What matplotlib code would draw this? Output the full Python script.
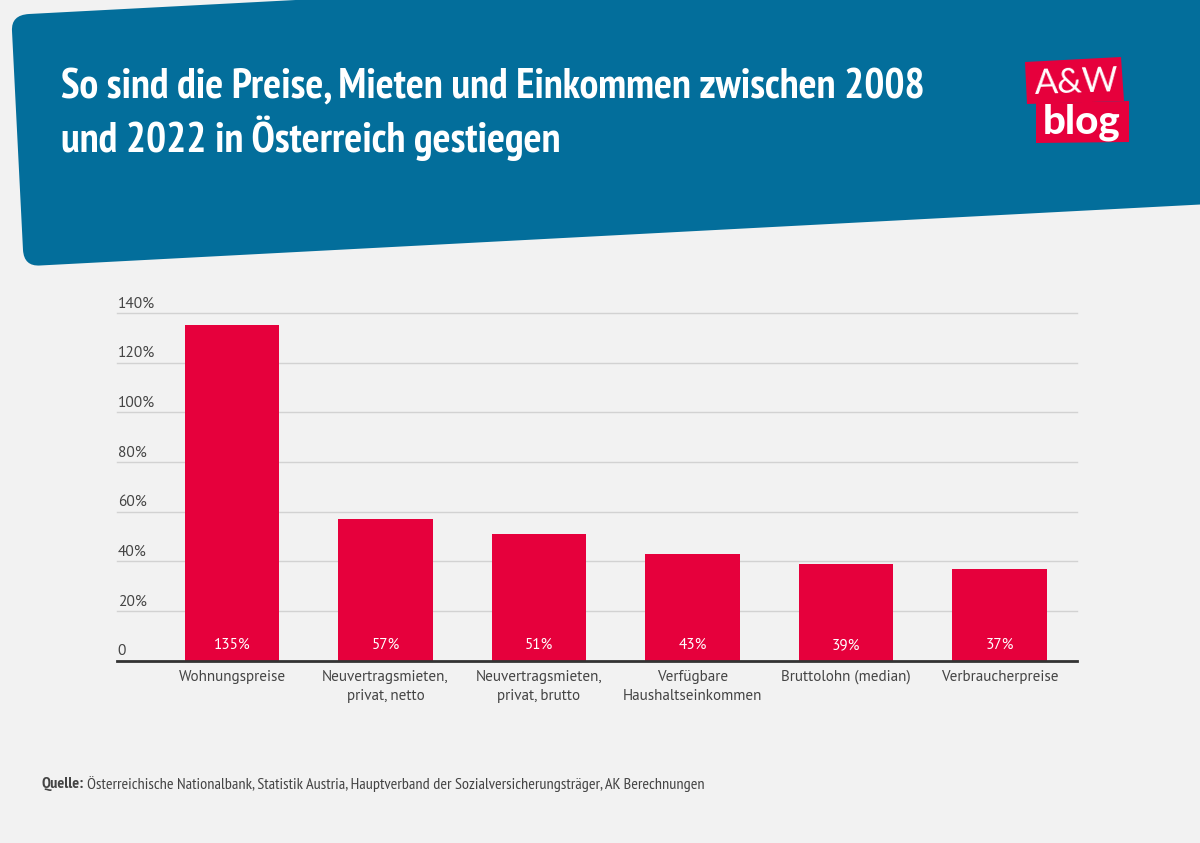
import matplotlib
matplotlib.use("Agg")
import logging
logging.getLogger("matplotlib.font_manager").setLevel(logging.ERROR)
import matplotlib.pyplot as plt
from matplotlib.patches import PathPatch, Polygon
from matplotlib.path import Path

W, H = 1200, 843
categories = ["Wohnungspreise", "Neuvertragsmieten,\nprivat, netto", "Neuvertragsmieten,\nprivat, brutto",
              "Verfügbare\nHaushaltseinkommen", "Bruttolohn (median)", "Verbraucherpreise"]
values = [135, 57, 51, 43, 39, 37]
yticks = [0, 20, 40, 60, 80, 100, 120, 140]
ytick_labels = ["0", "20%", "40%", "60%", "80%", "100%", "120%", "140%"]
title_lines = ["So sind die Preise, Mieten und Einkommen zwischen 2008", "und 2022 in Österreich gestiegen"]
source_bold = "Quelle:"
source = "Österreichische Nationalbank, Statistik Austria, Hauptverband der Sozialversicherungsträger, AK Berechnungen"

narrow = ["PT Sans Narrow", "Roboto"]
body = ["PT Sans", "Noto Sans"]
BG, BLUE, RED, INK = "#f2f2f2", "#036e9b", "#e6003c", "#444444"

fig = plt.figure(figsize=(W / 100, H / 100), dpi=100, facecolor=BG)
bg = fig.add_axes([0, 0, 1, 1])
bg.set_xlim(0, W); bg.set_ylim(H, 0); bg.axis("off")

# header band
P = Path
path = Path(
    [(29, 14), (1210, -48), (1210, 204), (40, 265.5), (24, 266.5), (23, 250), (12, 31), (11, 15), (29, 14), (29, 14)],
    [P.MOVETO, P.LINETO, P.LINETO, P.LINETO, P.CURVE3, P.CURVE3, P.LINETO, P.CURVE3, P.CURVE3, P.CLOSEPOLY])
bg.add_patch(PathPatch(path, fc=BLUE, ec="none"))
for y, line in zip([87, 138], title_lines):
    bg.text(61, y, line, color="white", fontsize=30.3, fontweight="bold", family=narrow, va="center", ha="left")

# logo
bg.add_patch(Polygon([(1025, 62), (1121, 57), (1124, 101), (1027, 104)], fc=RED, ec="none"))
bg.add_patch(Polygon([(1036, 103), (1129, 101), (1129, 142), (1036, 143)], fc=RED, ec="none"))
bg.text(1077, 83, "A&W", color="white", fontsize=25, family=["Lato", "Noto Sans"], fontweight="normal", ha="center", va="center", rotation=2)
bg.text(1082, 122, "blog", color="white", fontsize=29, fontweight="black", family=["Lato", "Noto Sans"], ha="center", va="center")

# chart
left, right, top, bottom = 117, 1077, 313.0, 660.5
ax = fig.add_axes([left / W, 1 - bottom / H, (right - left) / W, (bottom - top) / H])
ax.patch.set_alpha(0)
x = list(range(len(values)))
ax.set_xlim((left - 232) / 153.5, (right - 232) / 153.5)
ax.set_ylim(0, 140)
ax.set_axisbelow(True)
ax.yaxis.grid(True, color="#d2d2d2", lw=1.0, clip_on=False)
ax.bar(x, values, width=0.615, color=RED, zorder=2)
for s in ["top", "left", "right"]:
    ax.spines[s].set_visible(False)
ax.spines["bottom"].set_color("#333333")
ax.spines["bottom"].set_linewidth(2)
ax.spines["bottom"].set_zorder(5)
ax.set_yticks(yticks)
ax.set_yticklabels([])
ax.tick_params(axis="y", length=0)
for v, lab in zip(yticks, ytick_labels):
    ax.annotate(lab, (0, v), xycoords=ax.get_yaxis_transform(), xytext=(0.5, 1.8), textcoords="offset points",
                ha="left", va="bottom", fontsize=11.2, color=INK, family=body, annotation_clip=False)
ax.set_xticks(x)
ax.set_xticklabels(categories, fontsize=10.9, color=INK, family=body, linespacing=1.48)
ax.tick_params(axis="x", length=0, pad=6.5)
for xi, v in zip(x, values):
    ax.annotate(f"{v}%", (xi, 0), xytext=(0, 6.3), textcoords="offset points", ha="center", va="bottom",
                color="white", fontsize=11, family=body, zorder=6)

# source
bg.text(41, 784, source_bold, color=INK, fontsize=11.7, fontweight="bold", family=narrow, va="center", ha="left")
bg.text(87, 784, source, color=INK, fontsize=11.7, family=narrow, va="center", ha="left")

fig.savefig("out.png", dpi=100, facecolor=BG)
